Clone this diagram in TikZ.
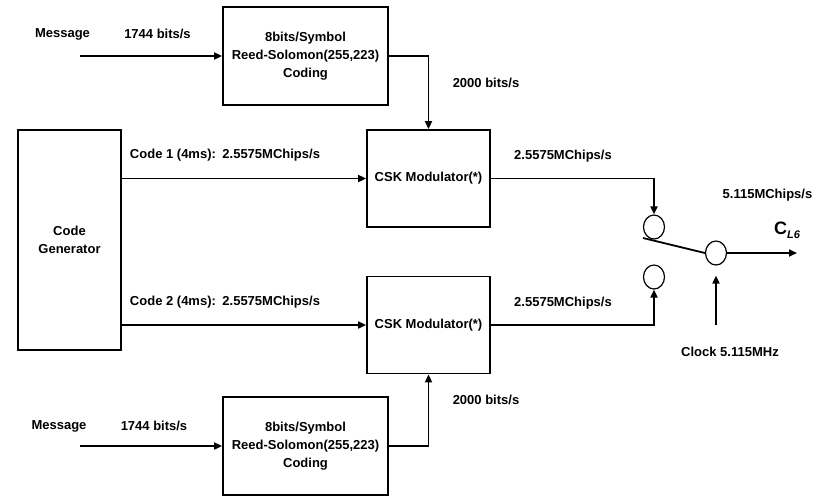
\documentclass[tikz,border=0pt]{standalone}
\usepackage{fontspec}
\setmainfont{Liberation Sans}
\usepackage{tikz}
\usetikzlibrary{shapes.geometric, arrows.meta, positioning}

\newcommand{\lblfont}{\fontsize{13}{18}\selectfont\bfseries}

\begin{document}
\begin{tikzpicture}[
    x=1pt, y=-1pt,
    block/.style={draw, line width=1.8pt, align=center, font=\lblfont, inner sep=0pt},
    rsbox/.style={block, minimum width=165pt, minimum height=98pt},
    cskbox/.style={block, minimum width=123pt, minimum height=97pt},
    junction/.style={draw, ellipse, line width=1.2pt, minimum width=21pt, minimum height=24pt, inner sep=0pt},
    arrow/.style={-{Triangle[length=8pt, width=7pt]}, line width=1.8pt},
    wire/.style={line width=1.8pt},
    lbl/.style={font=\lblfont, inner sep=0pt}
]

\useasboundingbox (0,0) rectangle (823,496);

% Encoders
\node[rsbox] (rs1) at (305.5,56) {8bits/Symbol\\Reed-Solomon(255,223)\\Coding};
\node[rsbox] (rs2) at (305.5,446) {8bits/Symbol\\Reed-Solomon(255,223)\\Coding};

% Code Generator
\node[block, minimum width=103pt, minimum height=220pt] (gen) at (69.5,240) {Code\\Generator};

% Modulators
\node[cskbox] (csk1) at (428.5,178.5) {CSK Modulator(*)};
\node[cskbox] (csk2) at (428.5,325) {CSK Modulator(*)};

% Switch
\node[junction] (sw1) at (654,227) {};
\node[junction] (sw2) at (654,277) {};
\node[junction] (sw) at (716,253) {};

% Free ends
\coordinate (in1) at (80,56);
\coordinate (in2) at (80,446);
\coordinate (lever) at (643,238);
\coordinate (out) at (797,253);
\coordinate (clk) at (716,325);

% Arrows
\draw[arrow] (in1) -- (rs1.west);
\draw[arrow] (in2) -- (rs2.west);
\draw[arrow] (rs1.east) -| (csk1.north);
\draw[arrow] (rs2.east) -| (csk2.south);
\draw[arrow] (gen.east |- csk1) -- (csk1.west);
\draw[arrow] (gen.east |- csk2) -- (csk2.west);
\draw[arrow] (csk1.east) -| (sw1.north);
\draw[arrow] (csk2.east) -| (sw2.south);
\draw[wire] (lever) -- (sw.west);
\draw[arrow] (sw.east) -- (out);
\draw[arrow] (clk) -- ([yshift=-10pt]sw.south);

% Labels
\node[lbl] (msg1) at (62.5,34) {Message};
\node[lbl] (rate1) at (157.5,34) {1744 bits/s};
\node[lbl] (msg2) at (59,426) {Message};
\node[lbl] (rate2) at (154,426) {1744 bits/s};
\node[lbl] (enc1) at (486,83) {2000 bits/s};
\node[lbl] (enc2) at (486,400) {2000 bits/s};
\node[lbl] (code1) at (225,155) {Code 1 (4ms):\enspace2.5575MChips/s};
\node[lbl] (code2) at (225,302) {Code 2 (4ms):\enspace2.5575MChips/s};
\node[lbl] (chip1) at (563,156) {2.5575MChips/s};
\node[lbl] (chip2) at (563,303) {2.5575MChips/s};
\node[lbl] (chipout) at (767.5,195) {5.115MChips/s};
\node[lbl] (cl6) at (787,230) {{\fontsize{18}{18}\selectfont C}\raisebox{-4pt}{\fontsize{11}{11}\selectfont\itshape L6}};
\node[lbl] (clock) at (730,352) {Clock 5.115MHz};

\end{tikzpicture}
\end{document}
